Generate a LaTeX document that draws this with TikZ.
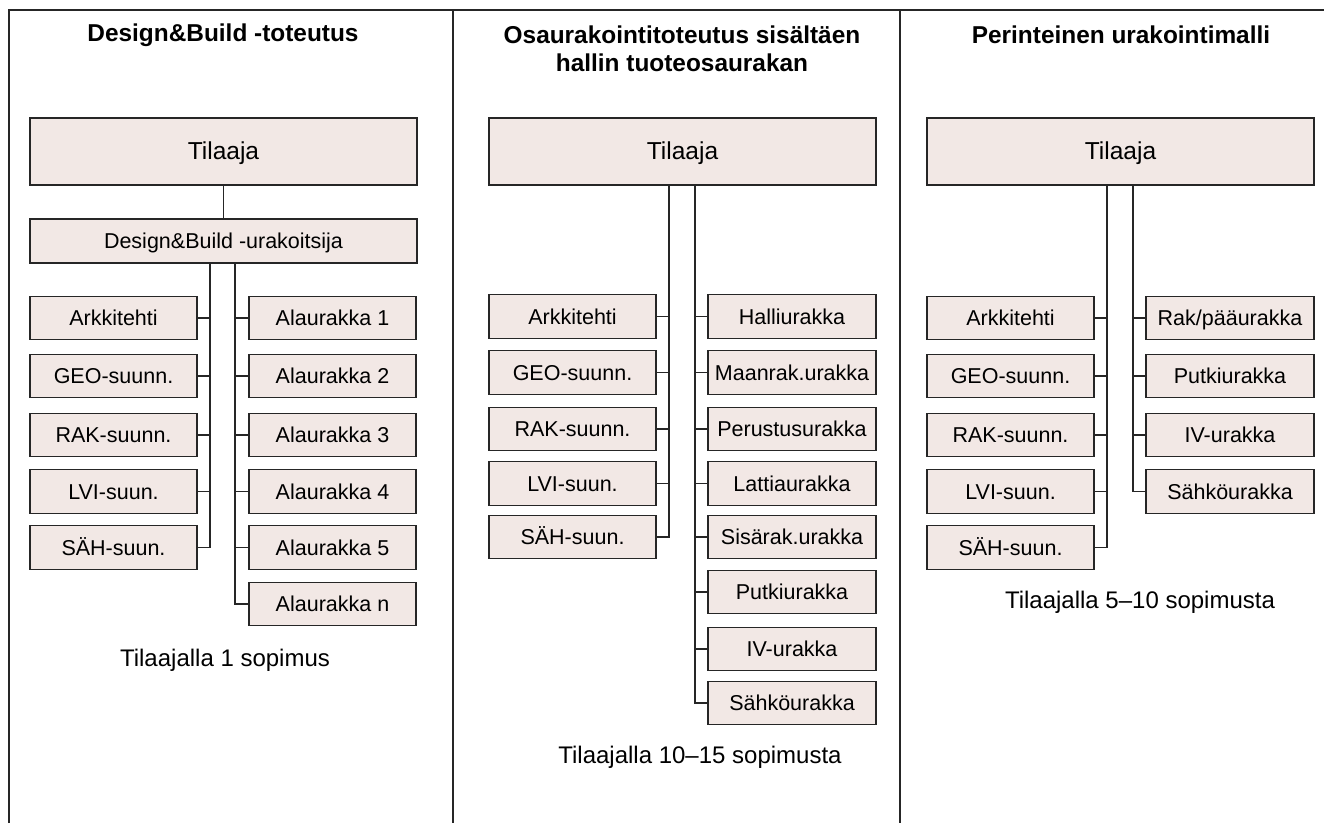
\documentclass[tikz,border=0pt]{standalone}
\usepackage{fontspec}
\setmainfont{Liberation Sans}
\definecolor{boxfill}{RGB}{242,232,229}
\definecolor{ink}{RGB}{38,38,38}
\tikzset{
  frame/.style={draw=ink, line width=1.5pt},
  link/.style={draw=ink, line width=1.1pt},
  box/.style={draw=ink, fill=boxfill, line width=1.3pt, minimum width=167pt,
    minimum height=43.5pt, inner sep=0pt, text height=15.4pt, text depth=0pt,
    font=\fontsize{21.5}{25}\selectfont},
  topbox/.style={box, minimum width=387pt, minimum height=67pt, text height=17.5pt,
    text depth=2pt, font=\fontsize{24.5}{28}\selectfont},
  midbox/.style={box, minimum width=387pt, minimum height=44pt},
  heading/.style={font=\bfseries\fontsize{24.4}{28.5}\selectfont, align=center, inner sep=0pt},
  note/.style={font=\fontsize{24}{28}\selectfont, inner sep=0pt},
}
\begin{document}
\begin{tikzpicture}[x=1pt, y=-1pt]
\useasboundingbox (0,0) rectangle (1324,823);
% page frame and column dividers
\draw[frame] (9,823) -- (9,10) -- (1324,10);
\draw[frame] (453,10) -- (453,823);
\draw[frame] (900,10) -- (900,823);

% ---- Column 1: Design&Build
\node[heading] (h1) at (223,35) {Design\&Build -toteutus};
\node[topbox] (til1) at (223.5,151.5) {Tilaaja};
\node[midbox] (db) at (223.5,241) {Design\&Build -urakoitsija};
\draw[link] (til1) -- (db);
\coordinate (t1l) at (210,263);
\coordinate (t1r) at (235,263);
\foreach \t/\y [count=\i] in {Arkkitehti/318, GEO-suunn./376, RAK-suunn./435, LVI-suun./491.5, SÄH-suun./547.5}{
  \node[box] (p1-\i) at (113.5,\y) {\t};
  \draw[link] (p1-\i.east) -- (p1-\i.east -| t1l);
}
\foreach \t/\y [count=\i] in {Alaurakka 1/318, Alaurakka 2/376, Alaurakka 3/435, Alaurakka 4/491.5, Alaurakka 5/547.5, Alaurakka n/604}{
  \node[box] (u1-\i) at (332.5,\y) {\t};
  \draw[link] (u1-\i.west) -- (u1-\i.west -| t1r);
}
\draw[link] (t1l) |- (p1-5.east);
\draw[link] (t1r) |- (u1-6.west);
\node[note] (n1) at (225,660) {Tilaajalla 1 sopimus};

% ---- Column 2: partial contracts
\node[heading] (h2) at (682,49) {Osaurakointitoteutus sisältäen\\hallin tuoteosaurakan};
\node[topbox] (til2) at (682.5,151.5) {Tilaaja};
\coordinate (t2l) at (669,185);
\coordinate (t2r) at (695,185);
\foreach \t/\y [count=\i] in {Arkkitehti/316.5, GEO-suunn./372.5, RAK-suunn./429, LVI-suun./483.5, SÄH-suun./537}{
  \node[box] (p2-\i) at (572.5,\y) {\t};
  \draw[link] (p2-\i.east) -- (p2-\i.east -| t2l);
}
\foreach \t/\y [count=\i] in {Halliurakka/316.5, Maanrak.urakka/372.5, Perustusurakka/429, Lattiaurakka/483.5, Sisärak.urakka/537, Putkiurakka/592, IV-urakka/649, Sähköurakka/703}{
  \node[box, minimum width=168pt] (u2-\i) at (792,\y) {\t};
  \draw[link] (u2-\i.west) -- (u2-\i.west -| t2r);
}
\draw[link] (t2l) |- (p2-5.east);
\draw[link] (t2r) |- (u2-8.west);
\node[note] (n2) at (700,757) {Tilaajalla 10–15 sopimusta};

% ---- Column 3: traditional model
\node[heading] (h3) at (1121,35) {Perinteinen urakointimalli};
\node[topbox] (til3) at (1120.5,151.5) {Tilaaja};
\coordinate (t3l) at (1107,185);
\coordinate (t3r) at (1133,185);
\foreach \t/\y [count=\i] in {Arkkitehti/318, GEO-suunn./376, RAK-suunn./435, LVI-suun./491.5, SÄH-suun./547.5}{
  \node[box] (p3-\i) at (1010.5,\y) {\t};
  \draw[link] (p3-\i.east) -- (p3-\i.east -| t3l);
}
\foreach \t/\y [count=\i] in {{Rak/pääurakka}/318, Putkiurakka/376, IV-urakka/435, Sähköurakka/491.5}{
  \node[box, minimum width=168pt] (u3-\i) at (1230,\y) {\t};
  \draw[link] (u3-\i.west) -- (u3-\i.west -| t3r);
}
\draw[link] (t3l) |- (p3-5.east);
\draw[link] (t3r) |- (u3-4.west);
\node[note] (n3) at (1140,602) {Tilaajalla 5–10 sopimusta};
\end{tikzpicture}
\end{document}
